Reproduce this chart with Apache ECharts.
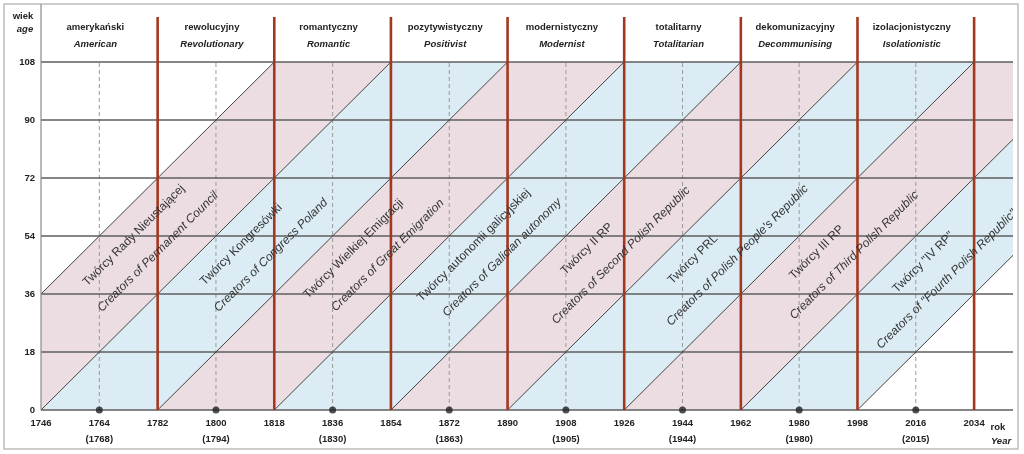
<!DOCTYPE html>
<html><head><meta charset="utf-8">
<script src="https://cdn.jsdelivr.net/npm/echarts@6/dist/echarts.min.js"></script>
<style>html,body{margin:0;padding:0;background:#fff}#c{width:1024px;height:454px}</style>
</head><body><div id="c"></div>
<script>
// ---- data ----
const ageTicks = [0, 18, 36, 54, 72, 90, 108];
const eraBounds = [1782, 1818, 1854, 1890, 1926, 1962, 1998, 2034];
const eraMid = [1764, 1800, 1836, 1872, 1908, 1944, 1980, 2016];
const altYearLabels = ['1768', '1794', '1830', '1863', '1905', '1944', '1980', '2015'];
const eraPL = ['amerykański', 'rewolucyjny', 'romantyczny', 'pozytywistyczny', 'modernistyczny', 'totalitarny', 'dekomunizacyjny', 'izolacjonistyczny'];
const eraEN = ['American', 'Revolutionary', 'Romantic', 'Positivist', 'Modernist', 'Totalitarian', 'Decommunising', 'Isolationistic'];
const cohortStart = [1710, 1746, 1782, 1818, 1854, 1890, 1926, 1962];
const cohortPL = ['Twórcy Rady Nieustającej', 'Twórcy Kongresówki', 'Twórcy Wielkiej Emigracji', 'Twórcy autonomii galicyjskiej', 'Twórcy II RP', 'Twórcy PRL', 'Twórcy III RP', 'Twórcy "IV RP"'];
const cohortEN = ['Creators of Permanent Council', 'Creators of Congress Poland', 'Creators of Great Emigration', 'Creators of Galician autonomy', 'Creators of Second Polish Republic', "Creators of Polish People's Republic", 'Creators of Third Polish Republic', 'Creators of "Fourth Polish Republic"'];
const diagonalBirths = [1710, 1746, 1782, 1818, 1854, 1890, 1926, 1962, 1998];
const X_MIN = 1746, X_MAX = 2046, AGE_MAX = 108, SPAN = 36;

// ---- layout / styles (not data) ----
const FONT = 'Liberation Sans, Arial, Helvetica, sans-serif';
const PINK = '#ecdde2', BLUE = '#dcecf4';
const GRID_COL = '#5e5e5e', RED = '#a3381f', DIAG = '#444', DASH = '#9a9a9a', TXT = '#222';
// per-label shift along the diagonal, in pixels (positive = up-right)
const shiftPL = [19, 6, 0, 5, 0, -15, -5, -19];
const shiftEN = [5, 0, 0, -3, 0, 0, 0, -34];

function clipPolyX(poly, xmin, xmax) {
  function clipEdge(pts, inside, inter) {
    const out = [];
    for (let i = 0; i < pts.length; i++) {
      const cur = pts[i], prev = pts[(i + pts.length - 1) % pts.length];
      const ci = inside(cur), pi = inside(prev);
      if (ci) { if (!pi) out.push(inter(prev, cur)); out.push(cur); }
      else if (pi) out.push(inter(prev, cur));
    }
    return out;
  }
  const ix = x => (a, b) => { const t = (x - a[0]) / (b[0] - a[0]); return [x, a[1] + t * (b[1] - a[1])]; };
  let p = clipEdge(poly, q => q[0] >= xmin, ix(xmin));
  p = clipEdge(p, q => q[0] <= xmax, ix(xmax));
  return p;
}
function diagAngle(api) {
  const p0 = api.coord([1800, 0]), p1 = api.coord([1900, 100]);
  return Math.atan2(p0[1] - p1[1], p1[0] - p0[0]);
}

const chart = echarts.init(document.getElementById('c'), null, { renderer: 'canvas' });
chart.setOption({
  animation: false,
  backgroundColor: '#fff',
  grid: { left: 41, top: 62, right: 11, bottom: 44 },
  xAxis: {
    type: 'value', min: X_MIN, max: X_MAX, interval: 18,
    axisLine: { show: false }, axisTick: { show: false }, splitLine: { show: false },
    axisLabel: {
      margin: 6, showMaxLabel: false, color: TXT,
      formatter: v => {
        if (v > 2034) return '';
        const k = eraMid.indexOf(v);
        return k >= 0 ? '{y|' + v + '}\n{p|(' + altYearLabels[k] + ')}' : '{y|' + v + '}';
      },
      rich: {
        y: { fontFamily: FONT, fontSize: 9.5, fontWeight: 'bold', color: TXT, lineHeight: 15 },
        p: { fontFamily: FONT, fontSize: 9.5, fontWeight: 'bold', color: TXT, lineHeight: 17 }
      }
    }
  },
  yAxis: {
    type: 'value', min: 0, max: AGE_MAX, interval: 18,
    axisLine: { show: false }, axisTick: { show: false }, splitLine: { show: false },
    axisLabel: { margin: 6, color: TXT, fontFamily: FONT, fontSize: 9.5, fontWeight: 'bold', padding: [0, 0, 8, 0] }
  },
  graphic: [
    { type: 'rect', x: 4, y: 4, shape: { width: 1014, height: 445 }, style: { fill: 'none', stroke: '#bdbdbd', lineWidth: 1.5 }, silent: true },
    { type: 'text', x: 23, y: 16, style: { text: 'wiek', align: 'center', verticalAlign: 'middle', fontFamily: FONT, fontSize: 9.5, fontWeight: 'bold', fill: TXT } },
    { type: 'text', x: 25, y: 29, style: { text: 'age', align: 'center', verticalAlign: 'middle', fontFamily: FONT, fontSize: 9.5, fontWeight: 'bold', fontStyle: 'italic', fill: TXT } },
    { type: 'text', x: 998, y: 427, style: { text: 'rok', align: 'center', verticalAlign: 'middle', fontFamily: FONT, fontSize: 9.5, fontWeight: 'bold', fill: TXT } },
    { type: 'text', x: 1001, y: 441, style: { text: 'Year', align: 'center', verticalAlign: 'middle', fontFamily: FONT, fontSize: 9.5, fontWeight: 'bold', fontStyle: 'italic', fill: TXT } }
  ],
  series: [
    { // cohort bands
      type: 'custom', z: 1, silent: true,
      data: cohortStart.map((b, i) => [b, i]),
      renderItem: (params, api) => {
        const b = api.value(0), i = api.value(1);
        const poly = clipPolyX([[b, 0], [b + SPAN, 0], [b + SPAN + AGE_MAX, AGE_MAX], [b + AGE_MAX, AGE_MAX]], X_MIN, X_MAX);
        return { type: 'polygon', shape: { points: poly.map(p => api.coord(p)) }, style: { fill: i % 2 === 0 ? PINK : BLUE } };
      }
    },
    { // dashed mid-era verticals
      type: 'custom', z: 2, silent: true,
      data: eraMid.map(m => [m]),
      renderItem: (params, api) => {
        const a = api.coord([api.value(0), 0]), b = api.coord([api.value(0), AGE_MAX]);
        return { type: 'line', shape: { x1: a[0], y1: a[1], x2: b[0], y2: b[1] }, style: { stroke: DASH, lineWidth: 1, lineDash: [4, 3] } };
      }
    },
    { // horizontal age lines
      type: 'custom', z: 3, silent: true,
      data: ageTicks.map(a => [a]),
      renderItem: (params, api) => {
        const a = api.coord([X_MIN, api.value(0)]), b = api.coord([X_MAX, api.value(0)]);
        return { type: 'line', shape: { x1: a[0], y1: a[1], x2: b[0], y2: b[1] }, style: { stroke: GRID_COL, lineWidth: 1.3 } };
      }
    },
    { // diagonal birth-year lines
      type: 'custom', z: 3, silent: true,
      data: diagonalBirths.map(b => [b]),
      renderItem: (params, api) => {
        const b = api.value(0);
        const x0 = Math.max(b, X_MIN), x1 = Math.min(b + AGE_MAX, X_MAX);
        const p0 = api.coord([x0, x0 - b]), p1 = api.coord([x1, x1 - b]);
        return { type: 'line', shape: { x1: p0[0], y1: p0[1], x2: p1[0], y2: p1[1] }, style: { stroke: DIAG, lineWidth: 1 } };
      }
    },
    { // y axis line (extends into header)
      type: 'custom', z: 3, silent: true, clip: false,
      data: [[X_MIN]],
      renderItem: (params, api) => {
        const a = api.coord([api.value(0), 0]);
        return { type: 'line', shape: { x1: a[0], y1: a[1], x2: a[0], y2: 4 }, style: { stroke: '#8a8a8a', lineWidth: 1.2 } };
      }
    },
    { // era boundaries (red)
      type: 'custom', z: 4, silent: true, clip: false,
      data: eraBounds.map(x => [x]),
      renderItem: (params, api) => {
        const a = api.coord([api.value(0), 0]), t = api.coord([api.value(0), AGE_MAX]);
        return { type: 'line', shape: { x1: a[0], y1: a[1], x2: a[0], y2: t[1] - 45 }, style: { stroke: RED, lineWidth: 2.6 } };
      }
    },
    { // mid-era dots
      type: 'scatter', z: 5, silent: true, clip: false,
      symbol: 'circle', symbolSize: 7, itemStyle: { color: '#222' },
      data: eraMid.map(m => [m, 0])
    },
    { // era header labels
      type: 'custom', z: 6, silent: true, clip: false,
      data: eraMid.map((m, i) => [m, i]),
      renderItem: (params, api) => {
        const i = api.value(1);
        const p = api.coord([api.value(0), AGE_MAX]);
        const x = p[0] - 4;
        return { type: 'group', children: [
          { type: 'text', x: x, y: p[1] - 34.5, style: { text: eraPL[i], align: 'center', verticalAlign: 'middle', fontFamily: FONT, fontSize: 9.5, fontWeight: 'bold', fill: TXT } },
          { type: 'text', x: x, y: p[1] - 17.5, style: { text: eraEN[i], align: 'center', verticalAlign: 'middle', fontFamily: FONT, fontSize: 9.5, fontWeight: 'bold', fontStyle: 'italic', fill: TXT } }
        ]};
      }
    },
    { // cohort labels along the diagonals
      type: 'custom', z: 6, silent: true, clip: false,
      data: cohortStart.map((b, i) => [b, i]),
      renderItem: (params, api) => {
        const b = api.value(0), i = api.value(1);
        const m = b + SPAN / 2;
        const rot = diagAngle(api);
        const c = Math.cos(rot), s = Math.sin(rot);
        const pPL = api.coord([m - 7.5 + 50, 50]);
        const pEN = api.coord([m + 5 + 48, 48]);
        return { type: 'group', children: [
          { type: 'text', x: pPL[0] + shiftPL[i] * c, y: pPL[1] - shiftPL[i] * s, rotation: rot, style: { text: cohortPL[i], align: 'center', verticalAlign: 'middle', fontFamily: FONT, fontSize: 12, fill: '#333' } },
          { type: 'text', x: pEN[0] + shiftEN[i] * c, y: pEN[1] - shiftEN[i] * s, rotation: rot, style: { text: cohortEN[i], align: 'center', verticalAlign: 'middle', fontFamily: FONT, fontSize: 12, fontStyle: 'italic', fill: '#333' } }
        ]};
      }
    }
  ]
});
</script>
</body></html>
